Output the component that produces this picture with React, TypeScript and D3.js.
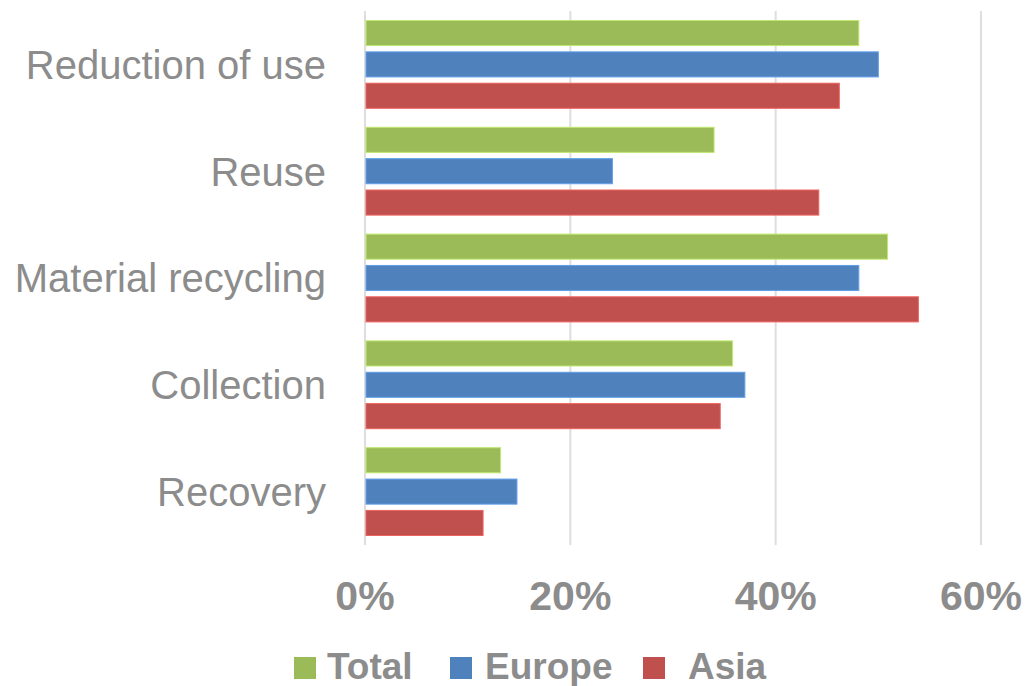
import React from "react";
import * as d3 from "d3";

const categories = ["Reduction of use", "Reuse", "Material recycling", "Collection", "Recovery"];
const seriesNames = ["Total", "Europe", "Asia"];
const totalValues = [48.1, 34.0, 50.9, 35.8, 13.2];
const europeValues = [50.0, 24.1, 48.1, 37.0, 14.8];
const asiaValues = [46.2, 44.2, 53.9, 34.6, 11.5];
const tickValues = [0, 20, 40, 60];
const colors = ["#9BBB59", "#4F81BD", "#C0504D"];
const legendX = [294, 450, 643];
const legendTextX = [327, 485, 688];

export default function App() {
  const W = 1025, H = 686;
  const x = d3.scaleLinear().domain([0, 60]).range([365, 981]);
  const y0 = d3.scaleBand<string>().domain(categories).range([11, 545]).paddingInner(0.178).paddingOuter(0.089);
  const y1 = d3.scaleBand<string>().domain(seriesNames).range([0, y0.bandwidth()]).paddingInner(0.2).paddingOuter(0);
  const seriesValues = [totalValues, europeValues, asiaValues];
  const textColor = "#8c8c8c";

  return (
    <div style={{ position: "absolute", left: 0, top: 0 }}>
      <svg width={W} height={H} style={{ display: "block", background: "#fff" }}>
        {tickValues.map((t) => (
          <line key={"g" + t} x1={x(t)} x2={x(t)} y1={11} y2={545} stroke="#dedede" strokeWidth={2} />
        ))}
        {categories.map((c, ci) => (
          <g key={c} transform={`translate(0,${y0(c)})`}>
            {seriesNames.map((s, si) => (
              <rect
                key={s}
                x={x(0) + 1}
                y={y1(s)}
                width={x(seriesValues[si][ci]) - x(0) - 1}
                height={y1.bandwidth()}
                fill={colors[si]}
                stroke={d3.color(colors[si])!.brighter(0.6).formatHex()}
                strokeWidth={1}
              />
            ))}
          </g>
        ))}
        {categories.map((c) => (
          <text
            key={"l" + c}
            x={326}
            y={(y0(c) as number) + y0.bandwidth() / 2}
            dy="0.36em"
            textAnchor="end"
            fontFamily="'Liberation Sans', Arial, sans-serif"
            fontSize={40}
            fill={textColor}
          >
            {c}
          </text>
        ))}
        {tickValues.map((t) => (
          <text
            key={"t" + t}
            x={x(t)}
            y={610}
            textAnchor="middle"
            fontFamily="'Liberation Sans', Arial, sans-serif"
            fontWeight="bold"
            fontSize={41}
            fill={textColor}
          >
            {t + "%"}
          </text>
        ))}
        {seriesNames.map((s, si) => (
          <g key={"lg" + s}>
            <rect x={legendX[si]} y={657} width={22} height={22} fill={colors[si]} />
            <text
              x={legendTextX[si]}
              y={679}
              fontFamily="'Liberation Sans', Arial, sans-serif"
              fontWeight="bold"
              fontSize={37}
              fill={textColor}
            >
              {s}
            </text>
          </g>
        ))}
      </svg>
    </div>
  );
}
